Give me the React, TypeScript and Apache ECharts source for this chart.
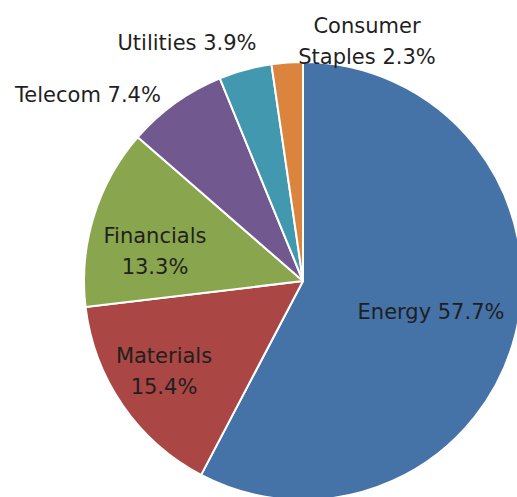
import React, { useEffect, useRef } from "react";
import * as echarts from "echarts";

const CATEGORIES = ["Energy", "Materials", "Financials", "Telecom", "Utilities", "Consumer Staples"];
const VALUES = [57.7, 15.4, 13.3, 7.4, 3.9, 2.3];
const COLORS = ["#4572A7", "#AA4643", "#89A54E", "#71588F", "#4198AF", "#DB843D"];
// how each label splits name / value
const LABEL_SEP = [" ", "\n", "\n", " ", " ", " "];
// label centres (layout, px)
const LABEL_POS: [number, number][] = [
  [431, 312],
  [164, 371],
  [155, 251],
  [88, 95],
  [187, 43],
  [367, 41],
];

export default function App() {
  const ref = useRef<HTMLDivElement>(null);
  useEffect(() => {
    if (!ref.current) return;
    const chart = echarts.init(ref.current, null, { renderer: "svg" });
    chart.setOption({
      animation: false,
      backgroundColor: "#ffffff",
      series: [
        {
          type: "pie",
          center: [303, 281],
          radius: 219,
          startAngle: 90,
          clockwise: true,
          avoidLabelOverlap: false,
          data: CATEGORIES.map((c, i) => ({
            name: c,
            value: VALUES[i],
            itemStyle: { color: COLORS[i] },
          })),
          itemStyle: { borderColor: "#ffffff", borderWidth: 2 },
          label: {
            show: true,
            position: "inside",
            fontFamily: "DejaVu Sans",
            fontSize: 21,
            lineHeight: 31,
            color: "#1f1f1f",
            align: "center",
            verticalAlign: "middle",
            formatter: (p: any) => {
              const i = p.dataIndex;
              const name = i === 5 ? "Consumer\nStaples" : p.name;
              return `${name}${LABEL_SEP[i]}${VALUES[i].toFixed(1)}%`;
            },
          },
          labelLine: { show: false },
          labelLayout: (p: any) => {
            const pos = LABEL_POS[p.dataIndex];
            return { x: pos[0], y: pos[1], align: "center", verticalAlign: "middle" };
          },
        },
      ],
    });
    return () => chart.dispose();
  }, []);
  return (
    <div
      ref={ref}
      style={{ position: "absolute", left: 0, top: 0, width: 517, height: 497 }}
    />
  );
}
